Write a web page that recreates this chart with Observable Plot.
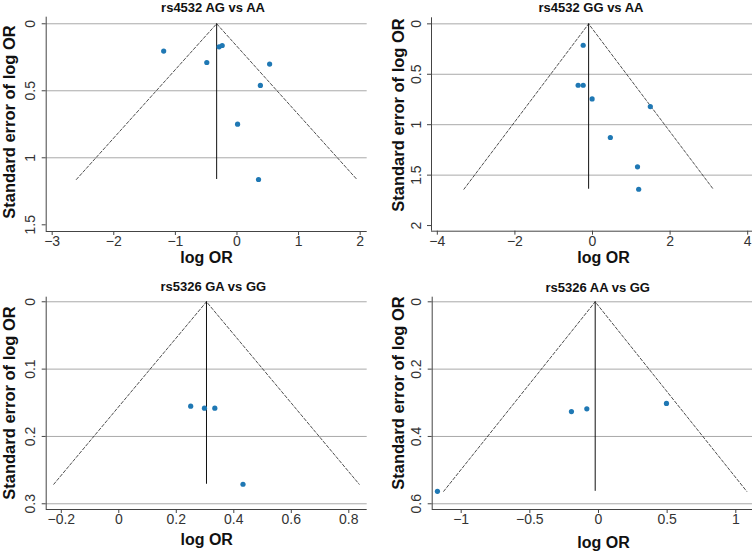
<!DOCTYPE html>
<html><head><meta charset="utf-8">
<script src="https://cdn.jsdelivr.net/npm/d3@7"></script>
<script src="https://cdn.jsdelivr.net/npm/@observablehq/plot@0.6"></script>
<style>
body{margin:0;background:#fff;}
#wrap{position:relative;width:753px;height:552px;overflow:hidden;font-family:"Liberation Sans",Arial,sans-serif;}
.panel{position:absolute;}
.ttl{position:absolute;font-weight:bold;font-size:13px;color:#111;transform:translate(-50%,-50%);white-space:nowrap;}
.xt{position:absolute;font-weight:bold;font-size:16px;line-height:16px;color:#111;transform:translate(-50%,-50%);white-space:nowrap;}
.yt{position:absolute;font-weight:bold;font-size:16.5px;line-height:17px;color:#111;transform:translate(-50%,-50%) rotate(-90deg);white-space:nowrap;}
</style></head><body><div id="wrap"></div>
<script>
// ---- data ----
const panelTitles = ["rs4532 AG vs AA", "rs4532 GG vs AA", "rs5326 GA vs GG", "rs5326 AA vs GG"];
const xTitle = "log OR";
const yTitle = "Standard error of log OR";

const p1LogOR = [-1.19, -0.49, -0.29, -0.24, 0.53, 0.38, 0.01, 0.35];
const p1SE    = [0.204, 0.289, 0.172, 0.162, 0.301, 0.46, 0.749, 1.162];
const p1Pooled = -0.33;
const p1XTicks = [-3, -2, -1, 0, 1, 2];
const p1YTicks = [0, 0.5, 1, 1.5];
const p1Grid = [0, 0.5, 1];

const p2LogOR = [-0.24, -0.37, -0.24, -0.01, 1.49, 0.46, 1.16, 1.19];
const p2SE    = [0.212, 0.609, 0.609, 0.744, 0.82, 1.127, 1.418, 1.64];
const p2Pooled = -0.10;
const p2XTicks = [-4, -2, 0, 2, 4];
const p2YTicks = [0, 0.5, 1, 1.5, 2];
const p2Grid = [0, 0.5, 1, 1.5];

const p3LogOR = [0.25, 0.298, 0.334, 0.432];
const p3SE    = [0.155, 0.158, 0.158, 0.271];
const p3Pooled = 0.305;
const p3XTicks = [-0.2, 0, 0.2, 0.4, 0.6, 0.8];
const p3YTicks = [0, 0.1, 0.2, 0.3];
const p3Grid = [0, 0.1, 0.2, 0.3];

const p4LogOR = [-0.197, -0.085, 0.495, -1.173];
const p4SE    = [0.326, 0.318, 0.302, 0.563];
const p4Pooled = -0.024;
const p4XTicks = [-1, -0.5, 0, 0.5, 1];
const p4YTicks = [0, 0.2, 0.4, 0.6];
const p4Grid = [0, 0.2, 0.4, 0.6];

// ---- layout ----
const layouts = [
  {left:0, top:0, w:376, h:276, ml:45.7, mr:9.3, mt:16.7, mb:45, xd:[-3.097, 2.114], yd:[-0.049, 1.55],
   title:[213,7], xt:[206.5,257.5], yt:[9.3,122]},
  {left:376, top:0, w:377, h:276, ml:55, mr:1, mt:17.3, mb:45.3, xd:[-4.15, 4.124], yd:[-0.06, 2.056],
   title:[591,7], xt:[603.5,257.5], yt:[397.7,115]},
  {left:0, top:276, w:376, h:276, ml:45.7, mr:9.3, mt:20.7, mb:43, xd:[-0.2525, 0.864], yd:[-0.0068, 0.3085],
   title:[213.3,286], xt:[206.7,540], yt:[9.3,402.7]},
  {left:376, top:276, w:377, h:276, ml:55.7, mr:1, mt:20.7, mb:43, xd:[-1.211, 1.1216], yd:[-0.0137, 0.617],
   title:[597.7,287], xt:[603.5,543], yt:[397.7,393]}
];

const datasets = [
  {logOR:p1LogOR, se:p1SE, pooled:p1Pooled, xTicks:p1XTicks, yTicks:p1YTicks, grid:p1Grid},
  {logOR:p2LogOR, se:p2SE, pooled:p2Pooled, xTicks:p2XTicks, yTicks:p2YTicks, grid:p2Grid},
  {logOR:p3LogOR, se:p3SE, pooled:p3Pooled, xTicks:p3XTicks, yTicks:p3YTicks, grid:p3Grid},
  {logOR:p4LogOR, se:p4SE, pooled:p4Pooled, xTicks:p4XTicks, yTicks:p4YTicks, grid:p4Grid}
];

const fmt = v => (v < 0 ? "\u2212" : "") + Math.abs(v);

function makePanel(d, L) {
  const seMax = d3.max(d.se);
  const pts = d.logOR.map((v, i) => ({x: v, y: d.se[i]}));
  const funnel = [
    {x: d.pooled - 1.96 * seMax, y: seMax},
    {x: d.pooled, y: 0},
    {x: d.pooled + 1.96 * seMax, y: seMax}
  ];
  return Plot.plot({
    width: L.w, height: L.h,
    marginLeft: L.ml, marginRight: L.mr, marginTop: L.mt, marginBottom: L.mb,
    style: {fontFamily: "'Liberation Sans', Arial, sans-serif", fontSize: "14px", color: "#333", background: "transparent", overflow: "visible"},
    x: {domain: L.xd},
    y: {domain: L.yd, reverse: true},
    marks: [
      Plot.ruleY(d.grid, {stroke: "#a9a9a9", strokeWidth: 1}),
      Plot.line(funnel, {x: "x", y: "y", stroke: "#222", strokeWidth: 0.8, strokeDasharray: "3,2"}),
      Plot.ruleX([d.pooled], {y1: 0, y2: seMax, stroke: "#111", strokeWidth: 1}),
      Plot.dot(pts, {x: "x", y: "y", r: 2.6, fill: "#1f78b4"}),
      Plot.ruleX([L.xd[0]], {stroke: "#444", strokeWidth: 1}),
      Plot.ruleY([L.yd[1]], {stroke: "#444", strokeWidth: 1}),
      Plot.axisX({ticks: d.xTicks, tickFormat: fmt, tickSize: 4, tickPadding: 1, label: null, stroke: "#444"}),
      Plot.axisY({ticks: d.yTicks, tickFormat: fmt, tickSize: 4, tickPadding: 7, tickRotate: -90, label: null, stroke: "#444"})
    ]
  });
}

const wrap = document.getElementById("wrap");
layouts.forEach((L, i) => {
  const svg = makePanel(datasets[i], L);
  svg.classList.add("panel");
  svg.style.left = L.left + "px";
  svg.style.top = L.top + "px";
  wrap.appendChild(svg);
  const t = document.createElement("div");
  t.className = "ttl"; t.textContent = panelTitles[i];
  t.style.left = L.title[0] + "px"; t.style.top = L.title[1] + "px";
  wrap.appendChild(t);
  const xt = document.createElement("div");
  xt.className = "xt"; xt.textContent = xTitle;
  xt.style.left = L.xt[0] + "px"; xt.style.top = L.xt[1] + "px";
  wrap.appendChild(xt);
  const yt = document.createElement("div");
  yt.className = "yt"; yt.textContent = yTitle;
  yt.style.left = L.yt[0] + "px"; yt.style.top = L.yt[1] + "px";
  wrap.appendChild(yt);
});
</script>
</body></html>
